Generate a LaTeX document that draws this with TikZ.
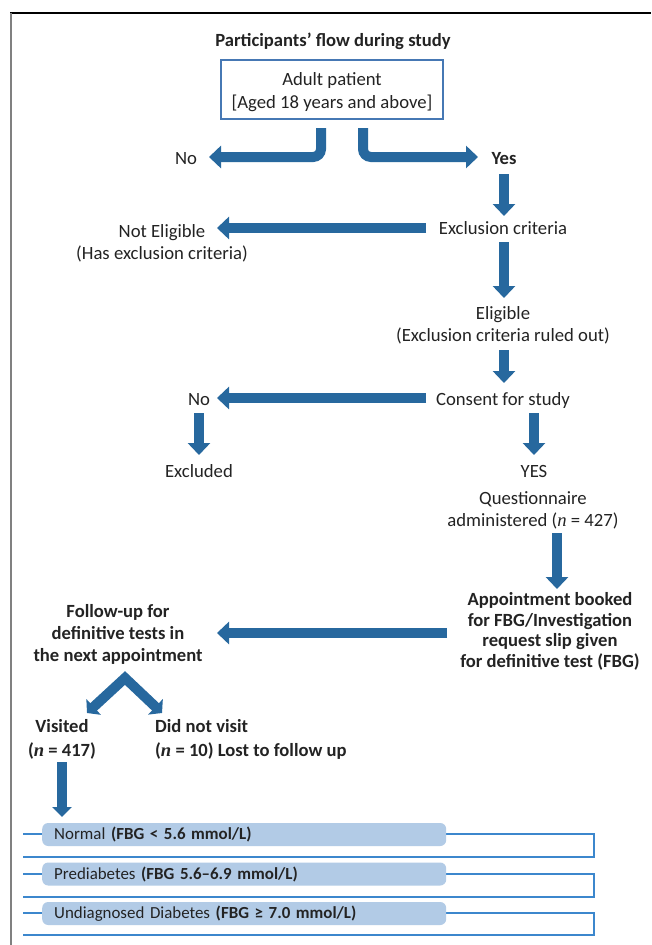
\documentclass[tikz,border=0pt]{standalone}
\usepackage{fontspec}
\setmainfont{Carlito}
\newfontfamily\serifit{Liberation Serif}
\usetikzlibrary{arrows.meta}
\definecolor{arrowblue}{RGB}{39,104,158}
\definecolor{boxblue}{RGB}{70,120,180}
\definecolor{lineblue}{RGB}{60,135,205}
\definecolor{pillfill}{RGB}{178,203,230}
\definecolor{txtgray}{RGB}{35,35,35}
\newcommand\nvar{{\serifit\itshape n}}
\begin{document}
\begin{tikzpicture}[x=1pt,y=-1pt,
  txt/.style={font=\fontsize{18.7}{22}\selectfont, text=txtgray, inner sep=0pt, align=center, yshift=-3pt,
    execute at begin node=\strut, execute at end node=\strut},
  btxt/.style={txt, font=\fontsize{18.6}{21.5}\selectfont\bfseries},
  fat/.style={draw=arrowblue, line width=10pt, -{Triangle[width=22pt,length=12pt]}},
  rowline/.style={draw=lineblue, line width=1.8pt},
  pill/.style={fill=pillfill, rounded corners=6pt, anchor=west, minimum height=23pt,
    text width=380pt, inner xsep=12pt, inner ysep=0pt, align=left, text=txtgray,
    font=\fontsize{16.9}{19}\selectfont}
]
\useasboundingbox (0,0) rectangle (651,945);
\fill[white] (0,0) rectangle (651,945);
% frame
\draw[black, line width=1.5pt] (10,13) -- (651,13);
\draw[black!50, line width=2pt] (10.5,12.5) -- (10.5,945);

% title and first box
\node[btxt] (title) at (333,39) {Participants’ flow during study};
\draw[boxblue, line width=1.1pt] (221,60) rectangle (443,119);
\node[txt, font=\fontsize{18.7}{23}\selectfont] (adult) at (332,90.5)
  {Adult patient\\{[}Aged 18 years and above{]}};

% first split
\node[txt] (no1) at (186,157) {No};
\node[btxt] (yes1) at (504,157) {Yes};
\coordinate (aL) at (321,128);
\coordinate (aR) at (363,128);
\coordinate (noTip) at (209,157);
\coordinate (yesTip) at (478,157);
\draw[fat, rounded corners=8pt] (aL) -- (aL |- noTip) -- (noTip);
\draw[fat, rounded corners=8pt] (aR) -- (aR |- yesTip) -- (yesTip);

% exclusion
\node[txt] (excl) at (503,227) {Exclusion criteria};
\coordinate (y1s) at (504,174); \coordinate (y1e) at (504,216);
\draw[fat] (y1s) -- (y1e);
\node[txt] (notel) at (162,242.5) {Not Eligible\\(Has exclusion criteria)};
\coordinate (exL) at (426,228); \coordinate (neTip) at (217,228);
\draw[fat] (exL) -- (neTip);

% eligible
\coordinate (e1s) at (504,242); \coordinate (e1e) at (504,298);
\draw[fat] (e1s) -- (e1e);
\node[txt] (elig) at (503,324) {Eligible\\(Exclusion criteria ruled out)};
\coordinate (e2s) at (504,350); \coordinate (e2e) at (504,383);
\draw[fat] (e2s) -- (e2e);

% consent
\node[txt] (consent) at (503,398) {Consent for study};
\node[txt] (no2) at (199,398) {No};
\coordinate (cL) at (426,398); \coordinate (cTip) at (217,398);
\draw[fat] (cL) -- (cTip);
\coordinate (n2s) at (199,413); \coordinate (n2e) at (199,455);
\draw[fat] (n2s) -- (n2e);
\node[txt] (excluded) at (199,470) {Excluded};
\coordinate (c2s) at (534,413); \coordinate (c2e) at (534,455);
\draw[fat] (c2s) -- (c2e);
\node[txt] (yes2) at (534,470) {YES};
\node[txt] (quest) at (533,509) {Questionnaire\\administered (\nvar{} = 427)};
\coordinate (q1s) at (557,533); \coordinate (q1e) at (557,589);
\draw[fat] (q1s) -- (q1e);

% appointment
\node[btxt, font=\fontsize{18.6}{20.7}\selectfont\bfseries] (appt) at (550,630)
  {Appointment booked\\for FBG/Investigation\\request slip given\\for definitive test (FBG)};
\coordinate (apL) at (447,633); \coordinate (apTip) at (217,633);
\draw[fat] (apL) -- (apTip);
\node[btxt, font=\fontsize{18.6}{22}\selectfont\bfseries] (follow) at (118,633) {Follow-up for\\definitive tests in\\the next appointment};

% chevron
\coordinate (apex) at (125,678);
\coordinate (chL) at (87,713);
\coordinate (chR) at (162,713);
\draw[draw=arrowblue, line width=10pt, line join=miter,
  {Triangle[width=21pt,length=9pt]}-{Triangle[width=21pt,length=9pt]}] (chL) -- (apex) -- (chR);

\node[btxt, font=\fontsize{18.6}{24}\selectfont\bfseries] (visited) at (62,739) {Visited\\(\nvar{} = 417)};
\node[btxt, font=\fontsize{18.6}{24}\selectfont\bfseries, anchor=west, align=left] (notvisit) at (155,739)
  {Did not visit\\(\nvar{} = 10) Lost to follow up};
\coordinate (v1s) at (62,762); \coordinate (v1e) at (62,817);
\draw[fat, -{Triangle[width=19pt,length=10pt]}] (v1s) -- (v1e);

% result rows
\draw[rowline] (23,834) -- (594,834) -- (594,857) -- (23,857);
\draw[rowline] (23,874) -- (594,874) -- (594,897) -- (23,897);
\draw[rowline] (23,913) -- (594,913) -- (594,935) -- (23,935);
\node[pill] (normal) at (42,834.5) {Normal \textbf{(FBG < 5.6 mmol/L)}};
\node[pill] (prediab) at (42,874) {Prediabetes \textbf{(FBG 5.6–6.9 mmol/L)}};
\node[pill] (undiag) at (42,913.5) {Undiagnosed Diabetes \textbf{(FBG ≥ 7.0 mmol/L)}};
\end{tikzpicture}
\end{document}
